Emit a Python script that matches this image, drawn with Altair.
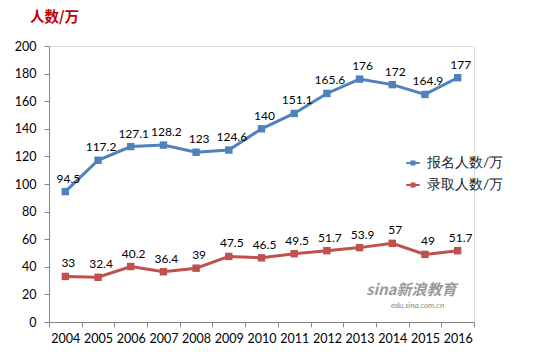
import altair as alt
import pandas as pd

years = ["2004", "2005", "2006", "2007", "2008", "2009", "2010",
         "2011", "2012", "2013", "2014", "2015", "2016"]
applicants = [94.5, 117.2, 127.1, 128.2, 123, 124.6, 140,
              151.1, 165.6, 176, 172, 164.9, 177]
admitted = [33, 32.4, 40.2, 36.4, 39, 47.5, 46.5,
            49.5, 51.7, 53.9, 57, 49, 51.7]
series_names = ["报名人数/万", "录取人数/万"]
y_ticks = [0, 20, 40, 60, 80, 100, 120, 140, 160, 180, 200]

rows = []
for name, vals in zip(series_names, [applicants, admitted]):
    for yr, v in zip(years, vals):
        rows.append({"year": yr, "value": v, "series": name, "label": f"{v:g}"})
df = pd.DataFrame(rows)

FONT = "Lato"
colors = ["#4F81BD", "#C0504D"]

x_enc = alt.X("year:O", scale=alt.Scale(type="band", paddingInner=0, paddingOuter=0),
              axis=alt.Axis(title=None, labelAngle=0, tickBand="extent", tickSize=5,
                            labelPadding=5, labelFontSize=12.5, labelFont=FONT,
                            labelColor="#000000", domainColor="#868686",
                            tickColor="#868686"))
y_enc = alt.Y("value:Q", scale=alt.Scale(domain=[0, 200], nice=False),
              axis=alt.Axis(title=None, values=y_ticks, grid=False, tickSize=5,
                            labelPadding=8, labelFontSize=12.5, labelFont=FONT,
                            labelColor="#000000", domainColor="#868686",
                            tickColor="#868686"))
color_enc = alt.Color("series:N", sort=series_names,
                      scale=alt.Scale(domain=series_names, range=colors),
                      legend=alt.Legend(title=None, orient="none", legendX=357, legendY=110,
                                        labelFont=FONT, labelFontSize=14, labelColor="#222222",
                                        symbolType="M-1.1,-0.18H1.1V0.18H-1.1Z M-0.4,-0.4H0.4V0.4H-0.4Z",
                                        symbolSize=150, symbolStrokeWidth=0,
                                        rowPadding=8, labelOffset=7))

base = alt.Chart(df)
lines = base.mark_line(strokeWidth=3).encode(x=x_enc, y=y_enc, color=color_enc)
points = base.mark_point(filled=True, size=55, shape="square", opacity=1).encode(
    x=x_enc, y=y_enc, color=color_enc)
labels = base.mark_text(dy=-13, dx=3, fontSize=12, font=FONT, color="#000000").encode(
    x=x_enc, y=y_enc, text="label:N")

wm1 = alt.Chart(pd.DataFrame({"t": ["sina新浪教育"]})).mark_text(
    fontSize=15, font="Noto Sans CJK SC", fontStyle="italic", color="#9a9a9a",
    align="left", fontWeight="bold").encode(
    text="t:N", x=alt.value(317), y=alt.value(244))
wm2 = alt.Chart(pd.DataFrame({"t": ["edu.sina.com.cn"]})).mark_text(
    fontSize=8, font=FONT, fontStyle="italic", color="#8a8a8a", align="left").encode(
    text="t:N", x=alt.value(342), y=alt.value(260))

chart = alt.layer(lines, points, labels, wm1, wm2).properties(
    width=425, height=276,
    title=alt.TitleParams("人数/万", anchor="start", frame="group", dx=-19, offset=15,
                          fontSize=14.5, font="Noto Sans CJK SC", color="#C00000",
                          fontWeight="bold"),
    autosize=alt.AutoSizeParams(type="none"),
    padding={"left": 49, "top": 46, "right": 76, "bottom": 30},
).configure_view(stroke=None).configure(background="#FFFFFF")

chart.save("out.html", embed_options={"renderer": "svg", "actions": False})
